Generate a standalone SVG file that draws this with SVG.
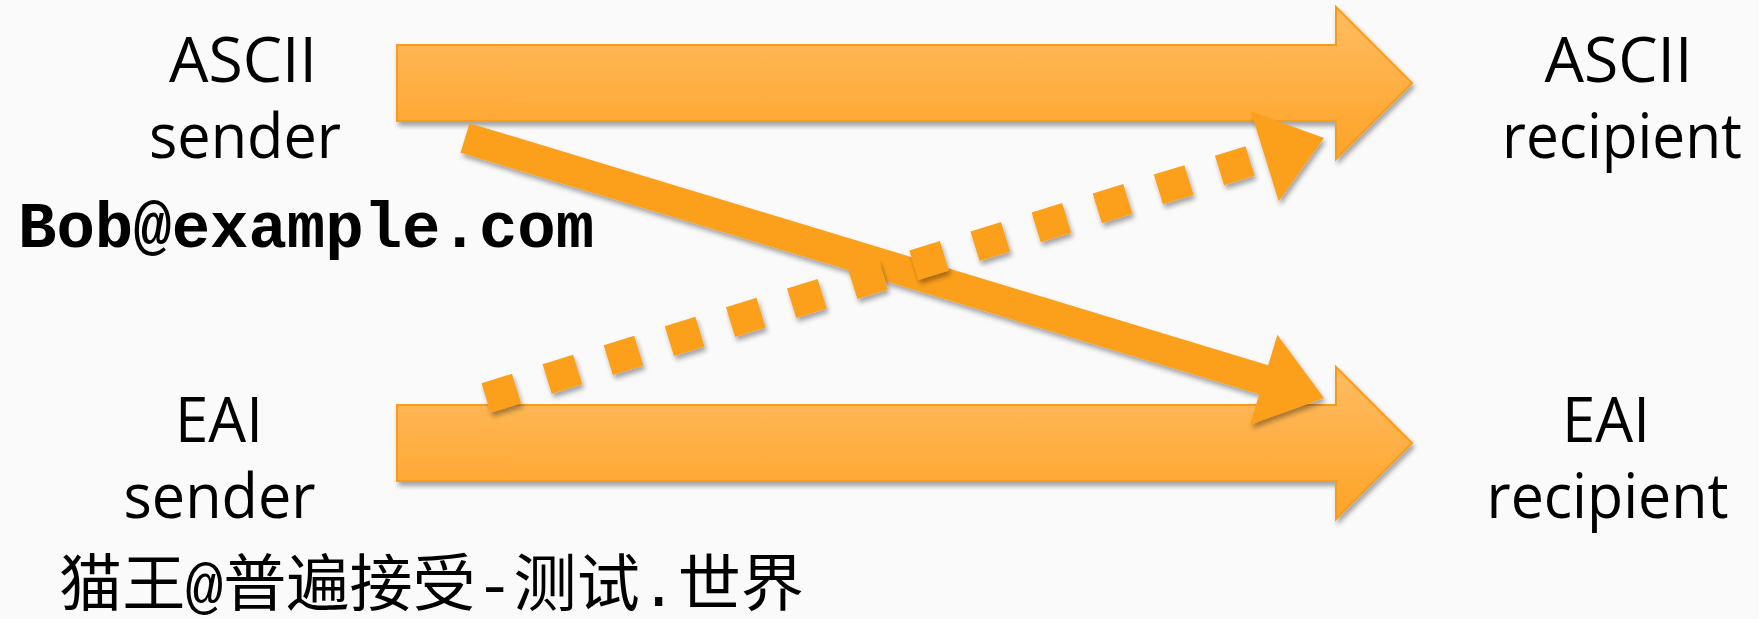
<svg xmlns="http://www.w3.org/2000/svg" width="1759" height="619" viewBox="0 0 1759 619">
  <defs>
    <linearGradient id="bigFill" x1="0" y1="0" x2="0" y2="1">
      <stop offset="0" stop-color="#FFBC63"/>
      <stop offset="1" stop-color="#FFA326"/>
    </linearGradient>
    <filter id="shadow" x="-5%" y="-20%" width="110%" height="140%">
      <feGaussianBlur in="SourceAlpha" stdDeviation="2.5"/>
      <feOffset dx="2" dy="4" result="b"/>
      <feComponentTransfer><feFuncA type="linear" slope="0.35"/></feComponentTransfer>
      <feMerge><feMergeNode/><feMergeNode in="SourceGraphic"/></feMerge>
    </filter>
    <style>
      .label { font-family: "Open Sans", "Noto Sans", sans-serif; font-size: 62px; fill: #000; text-anchor: middle; }
      .mono { font-family: "Liberation Mono", "Courier New", monospace; font-weight: bold; font-size: 64px; fill: #000; }
      .cjk { font-family: "Liberation Mono", "Noto Sans CJK SC", monospace; font-size: 62px; fill: #000; }
      .big { fill: url(#bigFill); stroke: #F89C1C; stroke-width: 2; filter: url(#shadow); }
      .thin { fill: #FCA01E; }
      .dots { fill: none; stroke: #FCA01E; stroke-width: 31; stroke-dasharray: 32 32; }
    </style>
  </defs>
  <rect width="1759" height="619" fill="#FAFAFA"/>

  <g id="connectors">
    <polygon class="big" points="397,45 1336,45 1336,7 1412,83 1336,159 1336,121 397,121"/>
    <polygon class="big" points="397,405 1336,405 1336,367 1412,443 1336,519 1336,481 397,481"/>
    <g filter="url(#shadow)">
      <polygon class="thin" points="469.5,123.2 1268.2,365.2 1277.3,334.7 1324,398 1250.1,424.7 1259.2,394.2 460.5,152.8"/>
    </g>
    <g filter="url(#shadow)">
      <path class="dots" d="M486,398 L1264.8,156.4"/>
      <polygon class="thin" points="1250.9,111.5 1324,138 1278.7,201.3"/>
    </g>
  </g>

  <g id="ascii-sender">
    <text class="label"><tspan x="243" y="82" textLength="148" lengthAdjust="spacingAndGlyphs">ASCII</tspan><tspan x="245" y="158" textLength="192" lengthAdjust="spacingAndGlyphs">sender</tspan></text>
    <text class="mono" x="18" y="247">Bob@example.com</text>
  </g>

  <g id="eai-sender">
    <text class="label"><tspan x="219" y="442" textLength="88" lengthAdjust="spacingAndGlyphs">EAI</tspan><tspan x="219.5" y="518" textLength="192" lengthAdjust="spacingAndGlyphs">sender</tspan></text>
    <text class="cjk" x="59" y="606" textLength="745" lengthAdjust="spacingAndGlyphs">猫王@普遍接受-测试.世界</text>
  </g>

  <g id="ascii-recipient">
    <text class="label"><tspan x="1618.5" y="82" textLength="148" lengthAdjust="spacingAndGlyphs">ASCII</tspan><tspan x="1622" y="158" textLength="240" lengthAdjust="spacingAndGlyphs">recipient</tspan></text>
  </g>

  <g id="eai-recipient">
    <text class="label"><tspan x="1606" y="442" textLength="88" lengthAdjust="spacingAndGlyphs">EAI</tspan><tspan x="1607.5" y="518" textLength="242" lengthAdjust="spacingAndGlyphs">recipient</tspan></text>
  </g>
</svg>
